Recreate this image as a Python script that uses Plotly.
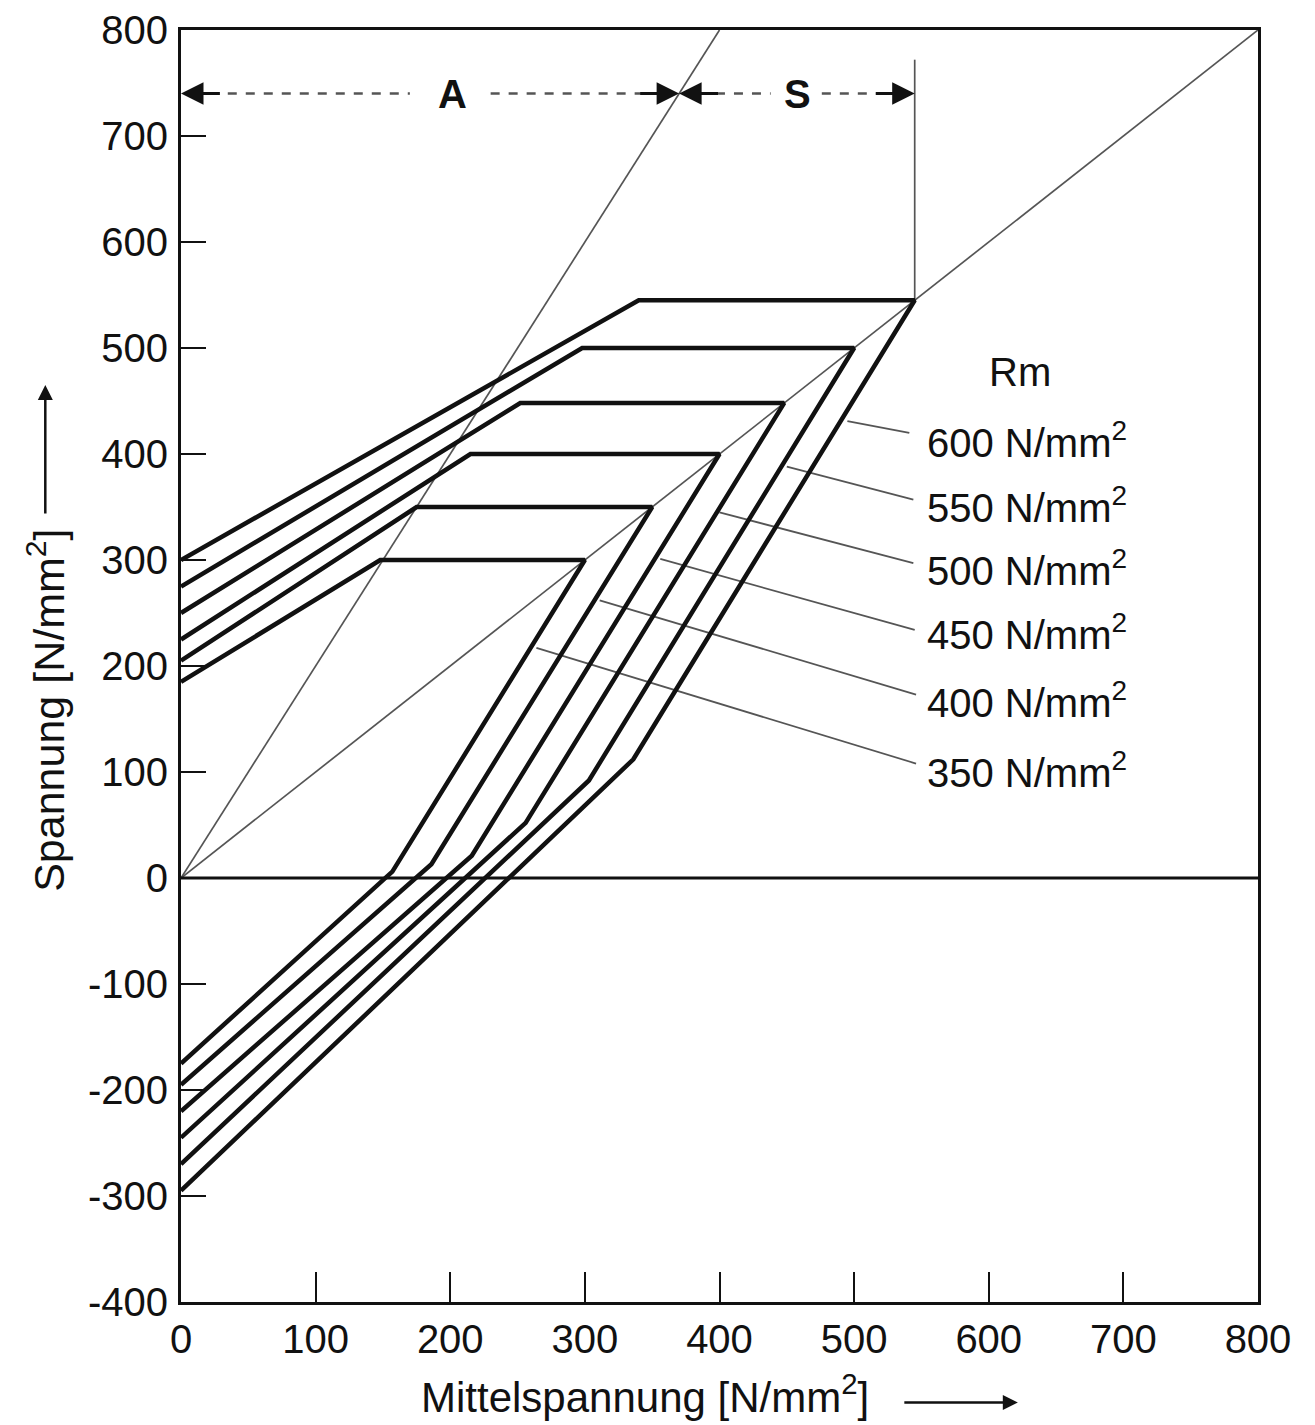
import plotly.graph_objects as go

# ---------------- data ----------------
rm_values = [350, 400, 450, 500, 550, 600]            # N/mm^2
upper_start = [185, 205, 225, 250, 275, 300]          # upper limit at sigma_m = 0
upper_knee_x = [148, 175, 215, 252, 298, 340]         # start of yield plateau
yield_level = [300, 350, 400, 448, 500, 545]          # plateau level (ends on diagonal)
lower_knee_x = [157, 186, 216, 256, 303, 336]
lower_knee_y = [6, 13, 21, 52, 92, 112]
lower_start = [-175, -195, -220, -245, -270, -295]    # lower limit at sigma_m = 0

leader_start_x = [264, 311, 356, 400, 450, 495]
leader_start_y = [217, 262, 301, 345, 388, 431]
leader_end_x = [546, 546, 545, 544, 544, 541]
leader_end_y = [108, 173, 234, 297, 357, 420]
label_x = 553
label_y = [102, 168, 232, 292, 352, 413]

diag_x = [0, 800]
diag_y = [0, 800]
steep_x = [0, 400]
steep_y = [0, 800]
limit_x = 545          # vertical A/S boundary (S region ends)
limit_top = 772
arrow_level = 740
as_split = 370         # where the steep line crosses the arrow level
a_text_x = 202
s_text_x = 458

x_ticks = [0, 100, 200, 300, 400, 500, 600, 700, 800]
x_ticktext = [str(v) for v in x_ticks]
y_ticks = [-400, -300, -200, -100, 0, 100, 200, 300, 400, 500, 600, 700, 800]
y_ticktext = [str(v) for v in y_ticks]

FONT = "Liberation Sans, Arial, Helvetica, sans-serif"
BLACK = "#111111"
GREY = "#555555"

fig = go.Figure()

# thin construction lines
fig.add_trace(go.Scatter(x=diag_x, y=diag_y, mode="lines",
                         line=dict(color=GREY, width=1.7), hoverinfo="skip"))
fig.add_trace(go.Scatter(x=steep_x, y=steep_y, mode="lines",
                         line=dict(color=GREY, width=1.7), hoverinfo="skip"))
fig.add_trace(go.Scatter(x=[limit_x, limit_x], y=[limit_x, limit_top], mode="lines",
                         line=dict(color=GREY, width=1.7), hoverinfo="skip"))

# leader lines
for i in range(len(rm_values)):
    fig.add_trace(go.Scatter(x=[leader_start_x[i], leader_end_x[i]],
                             y=[leader_start_y[i], leader_end_y[i]], mode="lines",
                             line=dict(color=GREY, width=1.8), hoverinfo="skip"))

# zero line
fig.add_trace(go.Scatter(x=[0, 800], y=[0, 0], mode="lines",
                         line=dict(color=BLACK, width=3), hoverinfo="skip"))

# Rm curves (outline: lower branch -> yield point -> plateau -> upper branch)
for i in range(len(rm_values)):
    xs = [0, lower_knee_x[i], yield_level[i], upper_knee_x[i], 0]
    ys = [lower_start[i], lower_knee_y[i], yield_level[i], yield_level[i], upper_start[i]]
    fig.add_trace(go.Scatter(x=xs, y=ys, mode="lines",
                             line=dict(color=BLACK, width=4.5),
                             name=f"Rm {rm_values[i]}", hoverinfo="skip"))

# dashed A / S dimension lines
dash_segments = [(8, a_text_x - 32), (a_text_x + 28, as_split - 12),
                 (as_split + 14, s_text_x - 20), (s_text_x + 18, limit_x - 10)]
for x0, x1 in dash_segments:
    fig.add_trace(go.Scatter(x=[x0, x1], y=[arrow_level, arrow_level], mode="lines",
                             line=dict(color=GREY, width=2.5, dash="dash"),
                             hoverinfo="skip"))

annotations = []

def head(tip_x, tail_x):
    return dict(x=tip_x, y=arrow_level, ax=tail_x, ay=arrow_level,
                xref="x", yref="y", axref="x", ayref="y", text="",
                showarrow=True, arrowhead=2, arrowsize=1.5, arrowwidth=3,
                arrowcolor=BLACK)

annotations += [head(0, 30), head(as_split, as_split - 30),
                head(as_split, as_split + 30), head(limit_x, limit_x - 30)]

annotations.append(dict(x=a_text_x, y=arrow_level, xref="x", yref="y", text="<b>A</b>",
                        showarrow=False, font=dict(family=FONT, size=40, color=BLACK)))
annotations.append(dict(x=s_text_x, y=arrow_level, xref="x", yref="y", text="<b>S</b>",
                        showarrow=False, font=dict(family=FONT, size=40, color=BLACK)))

# Rm labels
annotations.append(dict(x=623, y=477, xref="x", yref="y", text="Rm",
                        showarrow=False, font=dict(family=FONT, size=40, color=BLACK)))
for i in range(len(rm_values)):
    annotations.append(dict(x=label_x, y=label_y[i], xref="x", yref="y",
                            text=f"{rm_values[i]} N/mm<sup>2</sup>",
                            xanchor="left", yanchor="middle", showarrow=False,
                            font=dict(family=FONT, size=40, color=BLACK)))

# axis titles with arrows
annotations.append(dict(x=0.431, y=-0.072, xref="paper", yref="paper",
                        text="Mittelspannung [N/mm<sup>2</sup>]", showarrow=False,
                        xanchor="center", yanchor="middle",
                        font=dict(family=FONT, size=42, color=BLACK)))
annotations.append(dict(x=0.777, y=-0.079, xref="paper", yref="paper", text="",
                        ax=-115, ay=0, showarrow=True, arrowhead=2, arrowsize=1.2,
                        arrowwidth=2.5, arrowcolor=BLACK))
annotations.append(dict(x=-0.126, y=0.465, xref="paper", yref="paper",
                        text="Spannung [N/mm<sup>2</sup>]", showarrow=False,
                        textangle=-90, xanchor="center", yanchor="middle",
                        font=dict(family=FONT, size=43, color=BLACK)))
annotations.append(dict(x=-0.126, y=0.721, xref="paper", yref="paper", text="",
                        ax=0, ay=130, showarrow=True, arrowhead=2, arrowsize=1.2,
                        arrowwidth=2.5, arrowcolor=BLACK))

fig.update_layout(
    width=1307, height=1417,
    margin=dict(l=173, r=57, t=22, b=123, autoexpand=False),
    paper_bgcolor="white", plot_bgcolor="white",
    showlegend=False,
    annotations=annotations,
    font=dict(family=FONT, color=BLACK),
)
fig.update_xaxes(range=[0, 800], tickvals=x_ticks, ticktext=x_ticktext,
                 ticks="inside", ticklen=30, tickwidth=2, tickcolor=BLACK,
                 showgrid=False, zeroline=False, showline=True, linewidth=3,
                 linecolor=BLACK, mirror=True, ticklabelstandoff=0, automargin=False,
                 tickfont=dict(family=FONT, size=40, color=BLACK))
fig.update_yaxes(range=[-400, 800], tickvals=y_ticks, ticktext=y_ticktext,
                 ticks="inside", ticklen=25, tickwidth=2, tickcolor=BLACK,
                 showgrid=False, zeroline=False, showline=True, linewidth=3,
                 linecolor=BLACK, mirror=True, ticklabelstandoff=2, automargin=False,
                 tickfont=dict(family=FONT, size=40, color=BLACK))

fig.write_html("out.html")
